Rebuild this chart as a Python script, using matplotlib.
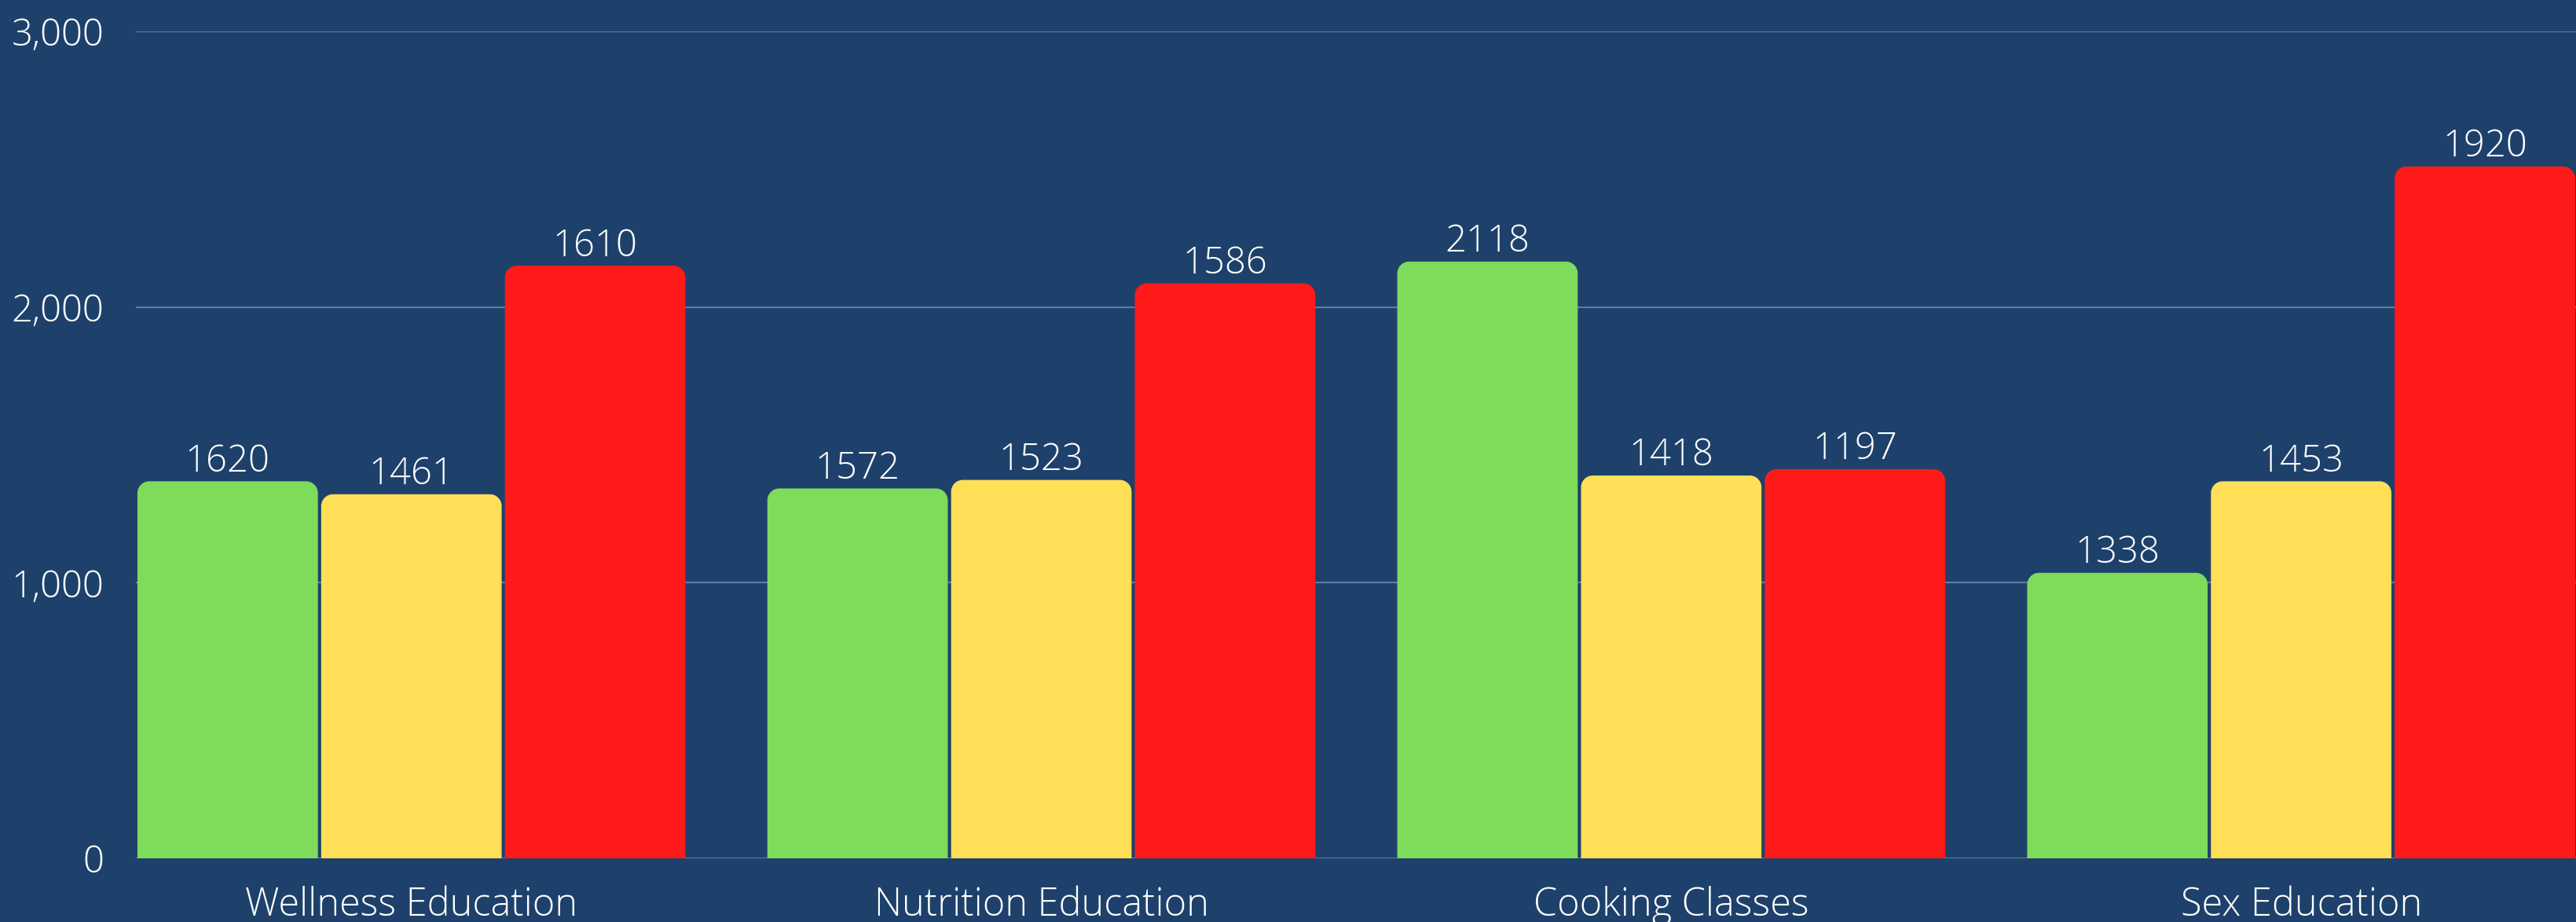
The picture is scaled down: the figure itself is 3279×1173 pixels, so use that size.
import matplotlib
matplotlib.use('Agg')
import matplotlib.pyplot as plt
from matplotlib.patches import PathPatch
from matplotlib.path import Path
from matplotlib.ticker import FuncFormatter
import numpy as np

# ── Data ──────────────────────────────────────────────────────────────────────
categories = ['Wellness Education', 'Nutrition Education', 'Cooking Classes', 'Sex Education']
green_vals = [1368, 1342, 2165, 1036]
yellow_vals = [1321, 1373, 1389, 1368]
red_vals = [2150, 2086, 1412, 2510]
green_labels = [1620, 1572, 2118, 1338]
yellow_labels = [1461, 1523, 1418, 1453]
red_labels = [1610, 1586, 1197, 1920]

BG = '#1e416b'
COLORS = ['#7fdb5a', '#ffdf57', '#ff1a1a']
FONT = 'Open Sans'

fig = plt.figure(figsize=(32.8, 11.73), dpi=100, facecolor=BG)
ax = fig.add_axes([0.0527, 0.069, 0.9473, 0.8969], facecolor=BG)

x = np.arange(len(categories))
step = 0.2917
width = 0.2865
series = [(green_vals, green_labels), (yellow_vals, yellow_labels), (red_vals, red_labels)]

ax.set_xlim(-1.5 * step, len(categories) - 1 + 1.5 * step)
ax.set_ylim(0, 3000)

# rounded top corners: radius in pixels -> data units
radius_px = 15
fig.canvas.draw()
px_per_x = ax.transData.transform((1, 0))[0] - ax.transData.transform((0, 0))[0]
px_per_y = ax.transData.transform((0, 1))[1] - ax.transData.transform((0, 0))[1]
rx = radius_px / px_per_x
ry = radius_px / px_per_y
K = 0.5523  # bezier circle constant


def top_rounded(bx, by, bw, bh):
    x0, x1, y0, y1 = bx, bx + bw, by, by + bh
    verts = [(x0, y0), (x0, y1 - ry),
             (x0, y1 - ry + K * ry), (x0 + rx - K * rx, y1), (x0 + rx, y1),
             (x1 - rx, y1),
             (x1 - rx + K * rx, y1), (x1, y1 - ry + K * ry), (x1, y1 - ry),
             (x1, y0), (x0, y0)]
    codes = [Path.MOVETO, Path.LINETO,
             Path.CURVE4, Path.CURVE4, Path.CURVE4,
             Path.LINETO,
             Path.CURVE4, Path.CURVE4, Path.CURVE4,
             Path.LINETO, Path.CLOSEPOLY]
    return Path(verts, codes)


for i, (vals, labs) in enumerate(series):
    bars = ax.bar(x + (i - 1) * step, vals, width=width, color=COLORS[i], zorder=3)
    for b, lab in zip(bars, labs):
        b.set_visible(False)
        bx, by = b.get_x(), b.get_y()
        bw, bh = b.get_width(), b.get_height()
        ax.add_patch(PathPatch(top_rounded(bx, by, bw, bh),
                               facecolor=COLORS[i], edgecolor='none', zorder=3))
        ax.annotate(str(lab), (bx + bw / 2, bh), xytext=(0, 9),
                    textcoords='offset points', ha='center', va='baseline',
                    color='white', fontsize=34, family=FONT, fontweight='light',
                    zorder=4)

ax.set_yticks([0, 1000, 2000, 3000])
ax.yaxis.set_major_formatter(FuncFormatter(lambda v, p: f'{int(v):,}'))
ax.grid(axis='y', color='#5b7fa6', linewidth=1.5, zorder=0)
ax.set_axisbelow(True)
ax.set_xticks(x)
ax.set_xticklabels(categories)

for s in ax.spines.values():
    s.set_visible(False)
ax.tick_params(axis='y', length=0, pad=29, colors='white', labelsize=34)
ax.tick_params(axis='x', length=0, pad=25, colors='white', labelsize=35)
for t in ax.get_xticklabels() + ax.get_yticklabels():
    t.set_family(FONT)
    t.set_fontweight('light')

fig.savefig('out.png', dpi=100, facecolor=BG)
